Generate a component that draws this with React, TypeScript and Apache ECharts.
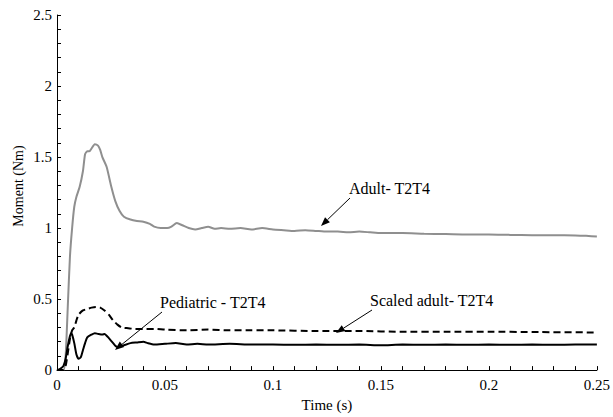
import React, { useEffect, useRef } from "react";
import * as echarts from "echarts";

const adultT = [0, 0.003, 0.004, 0.005, 0.006, 0.007, 0.008, 0.009, 0.0105, 0.012, 0.013, 0.014, 0.015, 0.016, 0.0175, 0.019, 0.02, 0.021, 0.023, 0.025, 0.027, 0.029, 0.031, 0.034, 0.037, 0.04, 0.043, 0.045, 0.048, 0.051, 0.053, 0.0555, 0.058, 0.061, 0.064, 0.067, 0.07, 0.073, 0.076, 0.08, 0.085, 0.09, 0.095, 0.1, 0.105, 0.11, 0.115, 0.12, 0.125, 0.13, 0.135, 0.14, 0.145, 0.15, 0.16, 0.17, 0.18, 0.19, 0.2, 0.21, 0.22, 0.23, 0.24, 0.245, 0.25];
const adultV = [0, 0, 0.1, 0.45, 0.8, 1.0, 1.15, 1.22, 1.29, 1.4, 1.52, 1.54, 1.54, 1.56, 1.59, 1.58, 1.55, 1.5, 1.43, 1.3, 1.19, 1.12, 1.08, 1.06, 1.05, 1.045, 1.03, 1.01, 1.0, 1.0, 1.01, 1.035, 1.02, 1.0, 0.99, 1.0, 1.01, 0.995, 1.0, 0.995, 1.0, 0.99, 1.0, 0.99, 0.985, 0.98, 0.985, 0.98, 0.975, 0.975, 0.97, 0.975, 0.97, 0.965, 0.965, 0.96, 0.958, 0.955, 0.955, 0.952, 0.95, 0.95, 0.948, 0.945, 0.94];

const scaledT = [0, 0.003, 0.004, 0.005, 0.006, 0.007, 0.008, 0.009, 0.01, 0.012, 0.014, 0.016, 0.018, 0.02, 0.022, 0.024, 0.026, 0.028, 0.03, 0.033, 0.036, 0.04, 0.045, 0.05, 0.06, 0.07, 0.08, 0.09, 0.1, 0.12, 0.14, 0.16, 0.18, 0.2, 0.22, 0.25];
const scaledV = [0, 0, 0.03, 0.12, 0.22, 0.28, 0.3, 0.35, 0.39, 0.42, 0.43, 0.44, 0.445, 0.44, 0.42, 0.39, 0.35, 0.32, 0.3, 0.295, 0.29, 0.29, 0.29, 0.285, 0.28, 0.285, 0.28, 0.28, 0.28, 0.275, 0.275, 0.27, 0.27, 0.27, 0.268, 0.265];

const pedT = [0, 0.001, 0.002, 0.003, 0.004, 0.005, 0.006, 0.0065, 0.007, 0.008, 0.009, 0.01, 0.011, 0.012, 0.013, 0.014, 0.016, 0.0175, 0.019, 0.021, 0.022, 0.024, 0.026, 0.027, 0.028, 0.029, 0.031, 0.034, 0.037, 0.04, 0.042, 0.045, 0.05, 0.055, 0.06, 0.065, 0.07, 0.08, 0.09, 0.1, 0.11, 0.12, 0.13, 0.14, 0.15, 0.16, 0.17, 0.18, 0.19, 0.2, 0.21, 0.22, 0.23, 0.24, 0.25];
const pedV = [0, 0.005, 0.015, 0.03, 0.08, 0.17, 0.24, 0.26, 0.25, 0.19, 0.11, 0.08, 0.09, 0.14, 0.19, 0.23, 0.25, 0.26, 0.255, 0.25, 0.255, 0.225, 0.19, 0.172, 0.162, 0.165, 0.175, 0.19, 0.195, 0.2, 0.19, 0.18, 0.185, 0.19, 0.18, 0.185, 0.18, 0.185, 0.18, 0.18, 0.178, 0.18, 0.178, 0.18, 0.175, 0.18, 0.178, 0.18, 0.178, 0.18, 0.178, 0.18, 0.178, 0.18, 0.18];

const labels = ["Adult- T2T4", "Scaled adult- T2T4", "Pediatric - T2T4"];
const xName = "Time (s)";
const yName = "Moment (Nm)";

const FONT = "Liberation Serif";
const FS = 15;

function zip(t: number[], v: number[]) {
  return t.map((x, i) => [x, v[i]]);
}

function arrow(x1: number, y1: number, x2: number, y2: number) {
  const dx = x2 - x1, dy = y2 - y1;
  const len = Math.sqrt(dx * dx + dy * dy);
  const ux = dx / len, uy = dy / len;
  const hl = 9, hw = 3.5;
  const bx = x2 - ux * hl, by = y2 - uy * hl;
  return [
    { type: "line", shape: { x1, y1, x2: bx, y2: by }, style: { stroke: "#000", lineWidth: 1 } },
    {
      type: "polygon",
      shape: { points: [[x2, y2], [bx - uy * hw, by + ux * hw], [bx + uy * hw, by - ux * hw]] },
      style: { fill: "#000" },
    },
  ];
}

function label(text: string, x: number, y: number, size = 16) {
  return {
    type: "text", x, y,
    style: { text, fontFamily: FONT, fontSize: size, fill: "#000", verticalAlign: "middle", align: "left" },
  };
}

export default function App() {
  const ref = useRef<HTMLDivElement>(null);
  useEffect(() => {
    const chart = echarts.init(ref.current!, null, { renderer: "svg" });
    const textStyle = { fontFamily: FONT, fontSize: FS, color: "#000" };
    chart.setOption({
      animation: false,
      backgroundColor: "#fff",
      textStyle: { fontFamily: FONT },
      grid: { left: 57, right: 16, top: 15, bottom: 41 },
      xAxis: {
        type: "value", min: 0, max: 0.25, interval: 0.05,
        name: xName, nameLocation: "middle", nameGap: 24,
        nameTextStyle: textStyle,
        axisLine: { lineStyle: { color: "#000", width: 1 } },
        axisTick: { inside: true, length: 4, lineStyle: { color: "#000" } },
        minorTick: { show: true, splitNumber: 5, length: 4, lineStyle: { color: "#000" } },
        axisLabel: { ...textStyle, margin: 7, formatter: (v: number) => String(+v.toFixed(2)) },
        splitLine: { show: false },
      },
      yAxis: {
        type: "value", min: 0, max: 2.5, interval: 0.5,
        axisLine: { show: true, lineStyle: { color: "#000", width: 1 } },
        axisTick: { show: true, inside: true, length: 4, lineStyle: { color: "#000" } },
        minorTick: { show: true, splitNumber: 5, length: 4, lineStyle: { color: "#000" } },
        axisLabel: { ...textStyle, margin: 5, formatter: (v: number) => String(+v.toFixed(1)) },
        splitLine: { show: false },
      },
      series: [
        { name: labels[0], type: "line", data: zip(adultT, adultV), showSymbol: false, smooth: 0.2, lineStyle: { color: "#8f8f8f", width: 2 } },
        { name: labels[1], type: "line", data: zip(scaledT, scaledV), showSymbol: false, smooth: 0.2, lineStyle: { color: "#000", width: 2, type: [7, 4] } },
        { name: labels[2], type: "line", data: zip(pedT, pedV), showSymbol: false, smooth: 0.2, lineStyle: { color: "#000", width: 2 } },
      ],
      graphic: [
        {
          type: "text", x: 18, y: 186, rotation: Math.PI / 2,
          style: { text: yName, fontFamily: FONT, fontSize: 14, fill: "#000", align: "center", verticalAlign: "middle" },
        },
        label(labels[0], 349, 188),
        label(labels[1], 370, 300),
        label(labels[2], 160, 302),
        ...arrow(350, 198, 321, 226),
        ...arrow(372, 310, 336, 333),
        ...arrow(162, 312, 115, 350),
      ],
    });
    return () => chart.dispose();
  }, []);
  return <div ref={ref} style={{ width: 613, height: 417, position: "absolute", left: 0, top: 0 }} />;
}
